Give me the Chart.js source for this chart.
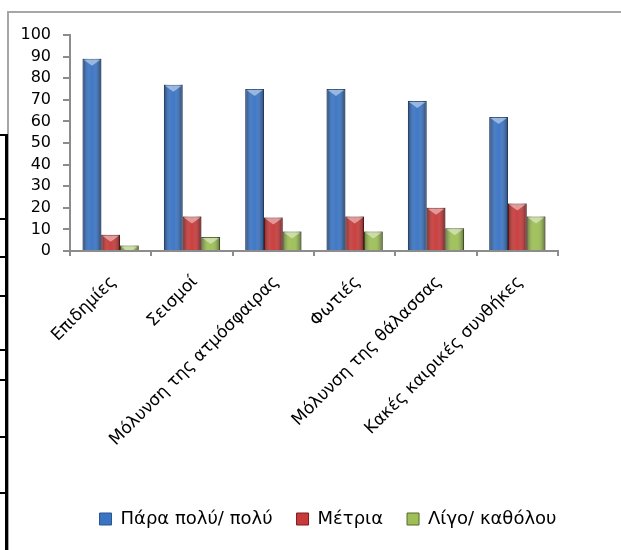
<!DOCTYPE html>
<html>
<head>
<meta charset="utf-8">
<script src="https://cdn.jsdelivr.net/npm/chart.js@4.4.1/dist/chart.umd.min.js"></script>
<style>
    html, body { margin: 0; padding: 0; background: #fff; width: 621px; height: 550px; overflow: hidden; }
    #frame { position: absolute; left: 7px; top: 11px; width: 700px; height: 600px;
             border-top: 2px solid #a6a6a6; border-left: 2px solid #a6a6a6; }
    #wrap { position: absolute; left: 8px; top: 12px; width: 640px; height: 538px; }
    .rule { position: absolute; background: #000; }
</style>
</head>
<body>
<div id="frame"></div>
<div class="rule" style="left:5px; top:134px; width:3px; height:416px"></div>
<div class="rule" style="left:0; top:134px; width:8px; height:2px"></div>
<div class="rule" style="left:0; top:218px; width:8px; height:2px"></div>
<div class="rule" style="left:0; top:256px; width:8px; height:2px"></div>
<div class="rule" style="left:0; top:295px; width:8px; height:2px"></div>
<div class="rule" style="left:0; top:349px; width:8px; height:2px"></div>
<div class="rule" style="left:0; top:379px; width:8px; height:2px"></div>
<div class="rule" style="left:0; top:436px; width:8px; height:2px"></div>
<div class="rule" style="left:0; top:492px; width:8px; height:2px"></div>
<div id="wrap"><canvas id="RiskChart"></canvas></div>

<script>
// categories and series
const categories = ['Επιδημίες', 'Σεισμοί', 'Μόλυνση της ατμόσφαιρας', 'Φωτιές', 'Μόλυνση της θάλασσας', 'Κακές καιρικές συνθήκες'];
const seriesNames = ['Πάρα πολύ/ πολύ', 'Μέτρια', 'Λίγο/ καθόλου'];
const veryMuch = [89, 77, 75, 75, 69.5, 62];
const moderate = [7.5, 16, 15.5, 16, 20, 22];
const little = [2.5, 6.5, 9, 9, 10.5, 16];
const yTicks = [0, 10, 20, 30, 40, 50, 60, 70, 80, 90, 100];

const axisGrey = '#8c8c8c';
const font = 'DejaVu Sans';

// bevel look: darker sides and a light chevron on top of every bar
const bevelPlugin = {
    id: 'bevel',
    afterDatasetsDraw(chart) {
        const ctx = chart.ctx;
        chart.data.datasets.forEach((ds, di) => {
            const meta = chart.getDatasetMeta(di);
            meta.data.forEach(bar => {
                const {x, y, base, width} = bar.getProps(['x', 'y', 'base', 'width'], true);
                const left = x - width / 2;
                const h = base - y;
                ctx.save();
                const g = ctx.createLinearGradient(left, 0, left + width, 0);
                g.addColorStop(0, 'rgba(0,0,0,0.38)');
                g.addColorStop(0.4, 'rgba(255,255,255,0.06)');
                g.addColorStop(0.55, 'rgba(255,255,255,0.04)');
                g.addColorStop(1, 'rgba(0,0,0,0.42)');
                ctx.fillStyle = g;
                ctx.fillRect(left, y, width, h);
                ctx.beginPath();
                ctx.rect(left, y, width, h);
                ctx.clip();
                ctx.beginPath();
                ctx.moveTo(left + 1, y + 1);
                ctx.lineTo(left + width - 1, y + 1);
                ctx.lineTo(x, y + 7);
                ctx.closePath();
                ctx.fillStyle = 'rgba(255,255,255,0.45)';
                ctx.fill();
                ctx.restore();
            });
        });
    }
};

const ctx = document.getElementById('RiskChart').getContext('2d');

const chart = new Chart(ctx, {
    type: 'bar',
    data: {
        labels: categories,
        datasets: [{
            label: seriesNames[0],
            data: veryMuch,
            backgroundColor: '#3a74c4',
            borderColor: '#2a558f',
            borderWidth: 1
        }, {
            label: seriesNames[1],
            data: moderate,
            backgroundColor: '#c83a3a',
            borderColor: '#7a1c1c',
            borderWidth: 1
        }, {
            label: seriesNames[2],
            data: little,
            backgroundColor: '#9dbf55',
            borderColor: '#56692c',
            borderWidth: 1
        }]
    },
    options: {
        responsive: true,
        maintainAspectRatio: false,
        animation: false,
        categoryPercentage: 0.69,
        barPercentage: 1,
        layout: { padding: { top: 23, bottom: 12, left: 0, right: 0 } },
        plugins: {
            tooltip: { enabled: false },
            legend: {
                position: 'bottom',
                labels: {
                    boxWidth: 12,
                    boxHeight: 12,
                    padding: 24,
                    color: '#000',
                    font: { family: font, size: 18 }
                }
            }
        },
        scales: {
            x: {
                grid: { drawOnChartArea: false, tickLength: 5, color: axisGrey, lineWidth: 2 },
                border: { color: axisGrey, width: 2 },
                ticks: {
                    autoSkip: false,
                    minRotation: 45,
                    maxRotation: 45,
                    padding: 16,
                    labelOffset: 3,
                    color: '#000',
                    font: { family: font, size: 17 }
                },
                afterFit(scale) { scale.height = 235; }
            },
            y: {
                min: 0,
                max: 100,
                afterBuildTicks(scale) { scale.ticks = yTicks.map(v => ({ value: v })); },
                grid: { drawOnChartArea: false, tickLength: 7, color: axisGrey, lineWidth: 2 },
                border: { color: axisGrey, width: 2 },
                ticks: {
                    autoSkip: false,
                    padding: 12,
                    color: '#000',
                    font: { family: font, size: 16 }
                },
                afterFit(scale) { scale.width = 62; }
            },
            // empty axis on the right keeps the plot narrower than the legend row
            side: {
                type: 'linear',
                position: 'right',
                grid: { display: false },
                border: { display: false },
                ticks: { display: false },
                afterFit(scale) { scale.width = 90; }
            }
        }
    },
    plugins: [bevelPlugin]
});
</script>
</body>
</html>
